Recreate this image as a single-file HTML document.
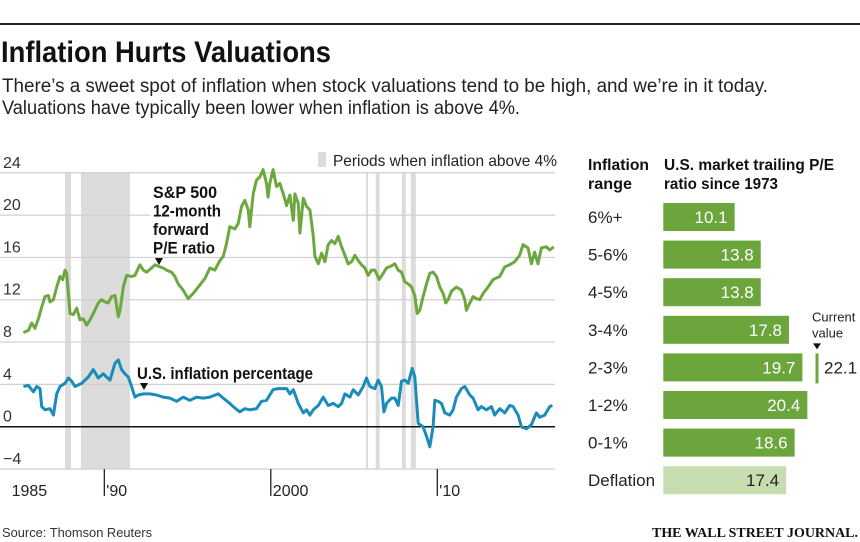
<!DOCTYPE html>
<html><head><meta charset="utf-8"><style>
html,body{margin:0;padding:0;background:#fff;}
svg{display:block;font-family:"Liberation Sans",sans-serif;}
</style></head><body>
<svg id="c" width="860" height="542" viewBox="0 0 860 542" xmlns="http://www.w3.org/2000/svg">
<rect x="0" y="23" width="860" height="2" fill="#222"/>
<text x="1" y="62" font-size="30" font-weight="bold" fill="#111" textLength="330" lengthAdjust="spacingAndGlyphs">Inflation Hurts Valuations</text>
<text x="2" y="92" font-size="19" fill="#222" textLength="766" lengthAdjust="spacingAndGlyphs">There’s a sweet spot of inflation when stock valuations tend to be high, and we’re in it today.</text>
<text x="2" y="114" font-size="19" fill="#222" textLength="518" lengthAdjust="spacingAndGlyphs">Valuations have typically been lower when inflation is above 4%.</text>
<g id="left"></g>
<g id="right"></g>
<text x="2" y="537" font-size="13" fill="#333" textLength="150" lengthAdjust="spacingAndGlyphs">Source: Thomson Reuters</text>
<text x="858" y="537" font-size="14" font-weight="bold" text-anchor="end" fill="#111" font-family="Liberation Serif, serif" textLength="206" lengthAdjust="spacingAndGlyphs">THE WALL STREET JOURNAL.</text>
</svg>
<script>
const peYears=[1985.14,1985.44,1985.64,1985.84,1986.04,1986.24,1986.44,1986.64,1986.74,1986.94,1987.14,1987.34,1987.5,1987.64,1987.74,1987.94,1988.14,1988.34,1988.54,1988.74,1988.94,1989.14,1989.34,1989.64,1989.84,1990.04,1990.24,1990.44,1990.64,1990.84,1990.94,1991.14,1991.34,1991.64,1991.84,1992.14,1992.34,1992.54,1992.84,1993.04,1993.34,1993.54,1993.74,1994.04,1994.24,1994.44,1994.74,1995.04,1995.34,1995.74,1996.04,1996.34,1996.64,1996.94,1997.14,1997.34,1997.54,1997.84,1998.04,1998.24,1998.44,1998.64,1998.74,1998.94,1999.14,1999.34,1999.54,1999.74,1999.84,1999.94,2000.14,2000.34,2000.54,2000.75,2000.95,2001.15,2001.35,2001.45,2001.65,2001.75,2001.95,2002.15,2002.35,2002.55,2002.65,2002.85,2003.05,2003.25,2003.45,2003.65,2003.85,2004.05,2004.25,2004.45,2004.65,2004.85,2005.05,2005.25,2005.45,2005.65,2005.85,2006.05,2006.25,2006.51,2006.75,2006.95,2007.25,2007.45,2007.65,2007.85,2008.05,2008.25,2008.45,2008.65,2008.79,2008.95,2009.15,2009.35,2009.55,2009.75,2009.95,2010.15,2010.35,2010.51,2010.65,2010.85,2011.15,2011.45,2011.65,2011.75,2011.95,2012.15,2012.35,2012.55,2012.75,2013.05,2013.35,2013.75,2014.05,2014.35,2014.65,2014.95,2015.15,2015.45,2015.65,2015.85,2016.05,2016.25,2016.55,2016.75,2016.99];
const peValues=[8.9,9.1,9.8,9.3,10.2,11.3,12.3,12.4,11.8,12.0,13.2,14.2,13.9,14.8,14.5,10.7,10.6,11.2,10.1,10.2,9.6,10.1,10.7,11.7,12.0,11.8,11.7,12.3,12.4,10.4,11.0,13.2,14.3,14.2,14.3,15.3,14.8,14.6,15.0,15.3,15.1,15.0,14.8,14.6,14.2,13.5,12.9,12.1,12.6,13.4,14.0,15.0,14.8,15.7,16.1,17.3,18.9,18.7,19.2,20.8,21.4,20.5,18.9,22.0,23.3,23.6,24.3,23.0,21.7,23.0,24.3,22.7,23.0,22.0,20.9,21.9,19.5,22.0,21.1,18.3,21.6,20.8,20.5,18.0,16.1,15.4,16.4,15.6,17.2,17.6,17.3,18.0,17.0,16.2,15.4,15.6,16.2,15.7,15.3,15.0,14.3,14.8,14.8,13.9,14.5,15.0,15.2,15.4,14.8,14.6,13.7,13.5,13.2,12.4,10.7,11.0,12.3,13.5,14.5,14.6,14.2,13.2,12.6,11.7,12.0,12.8,13.2,12.9,12.0,11.0,11.7,12.3,12.1,12.0,12.6,13.2,13.9,14.2,15.1,15.3,15.6,16.2,17.2,16.9,15.4,16.5,15.4,16.9,17.0,16.7,17.0];
const cpiYears=[1985.14,1985.44,1985.74,1985.94,1986.14,1986.24,1986.44,1986.74,1986.94,1987.14,1987.34,1987.64,1987.84,1988.04,1988.24,1988.64,1989.04,1989.34,1989.64,1989.94,1990.14,1990.34,1990.64,1990.84,1991.04,1991.24,1991.44,1991.64,1991.84,1992.04,1992.34,1992.74,1993.14,1993.54,1993.94,1994.34,1994.74,1995.14,1995.54,1995.94,1996.34,1996.84,1997.14,1997.54,1997.74,1998.14,1998.44,1998.74,1999.14,1999.44,1999.74,2000.14,2000.44,2000.95,2001.15,2001.35,2001.65,2001.95,2002.15,2002.35,2002.55,2002.85,2003.15,2003.45,2003.75,2004.05,2004.25,2004.45,2004.75,2004.95,2005.25,2005.55,2005.75,2005.95,2006.25,2006.45,2006.65,2006.79,2006.95,2007.25,2007.45,2007.65,2007.85,2008.05,2008.25,2008.49,2008.65,2008.85,2009.15,2009.35,2009.55,2009.75,2009.85,2010.05,2010.25,2010.45,2010.75,2010.95,2011.15,2011.45,2011.65,2011.95,2012.15,2012.45,2012.65,2012.95,2013.25,2013.45,2013.75,2014.05,2014.35,2014.55,2014.85,2015.05,2015.35,2015.65,2015.95,2016.15,2016.45,2016.75,2016.91];
const cpiValues=[3.8,3.9,3.3,3.8,3.6,1.9,1.6,1.7,1.1,3.1,3.8,4.1,4.6,4.3,3.8,4.1,4.7,5.4,4.6,5.0,4.7,4.4,6.0,6.3,5.4,5.0,4.7,3.8,2.8,3.0,3.1,3.1,3.0,2.8,2.7,2.4,2.8,2.5,2.8,2.7,2.8,3.1,2.7,2.2,1.9,1.4,1.7,1.6,1.7,2.4,2.5,3.5,3.6,3.6,3.1,3.5,2.2,1.3,1.6,1.1,1.6,2.0,2.8,2.0,2.2,1.9,2.2,3.1,2.8,3.5,3.0,3.8,4.6,3.8,3.6,4.4,3.8,1.4,2.2,2.7,2.7,2.0,4.3,4.4,4.1,5.5,4.7,0.3,0.0,-0.9,-1.9,0.0,2.5,2.4,2.2,1.3,1.1,1.6,2.8,3.6,3.8,3.0,2.7,1.6,1.9,1.6,1.9,1.1,1.7,1.3,2.0,1.9,1.1,0.0,-0.2,0.2,1.3,0.9,1.1,1.9,2.0];
const bandStarts=[1987.64,1988.6,2005.72,2006.3,2007.87,2008.41];
const bandEnds=[1988.0,1991.54,2005.84,2006.54,2008.11,2008.71];
const yTicks=[24,20,16,12,8,4,0,-4];
const yTickLabels=["24","20","16","12","8","4","0","\u22124"];
const xTicks=[1990,2000,2010];
const xTickLabels=["'90","2000","'10"];
const barCategories=["6%+","5-6%","4-5%","3-4%","2-3%","1-2%","0-1%","Deflation"];
const barValues=[10.1,13.8,13.8,17.8,19.7,20.4,18.6,17.4];
const barLabels=["10.1","13.8","13.8","17.8","19.7","20.4","18.6","17.4"];
const currentValue=22.1;

const NS="http://www.w3.org/2000/svg";
function mk(tag,attrs,parent,txt){const e=document.createElementNS(NS,tag);for(const k in attrs)e.setAttribute(k,attrs[k]);if(txt!=null)e.textContent=txt;parent.appendChild(e);return e;}
const X=y=>104.3+(y-1990)*16.65;
const Y=v=>426.7-v*10.58;
const L=document.getElementById('left');
// bands
for(let i=0;i<bandStarts.length;i++){
  const r=mk('rect',{x:X(bandStarts[i]),y:Y(24),width:X(bandEnds[i])-X(bandStarts[i]),height:Y(-4)-Y(24),fill:'#dcdcdc'},L);
  
  
}
// grid
for(let i=0;i<yTicks.length;i++){
  const v=yTicks[i];
  const g=mk('line',{x1:0,x2:555,y1:Y(v),y2:Y(v),stroke:v===0?'#111':'#cfcfcf','stroke-width':v===0?1.5:1.2},L);
  
  
  const t=mk('text',{x:3,y:Y(v)-5,'font-size':16,fill:'#333'},L,yTickLabels[i]);
  
  
}
// x ticks
for(let i=0;i<xTicks.length;i++){
  const tk=mk('line',{x1:X(xTicks[i]),x2:X(xTicks[i]),y1:Y(-4),y2:496,stroke:'#111','stroke-width':1.2},L);
  
  
  const t=mk('text',{x:X(xTicks[i])+2,y:496,'font-size':16,fill:'#222'},L,xTickLabels[i]);
  
  
}
const t85=mk('text',{x:X(1985.5),y:496,'font-size':16,fill:'#222','text-anchor':'middle'},L,"1985");


// annotation backgrounds
const bg=mk('rect',{x:150,y:178,width:100,height:74,fill:'#fff'},L);


// lines
function path(xs,vs){return xs.map((y,i)=>(i?'L':'M')+X(y).toFixed(1)+','+Y(vs[i]).toFixed(1)).join('');}
const pe=mk('path',{d:path(peYears,peValues),fill:'none',stroke:'#6da83f','stroke-width':3,'stroke-linejoin':'round'},L);


const cp=mk('path',{d:path(cpiYears,cpiValues),fill:'none',stroke:'#1b8cba','stroke-width':3,'stroke-linejoin':'round'},L);


// annotations
const ann=["S&P 500","12-month","forward","P/E ratio"];
ann.forEach((s,i)=>{const t=mk('text',{x:153,y:198+i*18.5,'font-size':17,fill:'#111','font-weight':'bold',textLength:[64,68,56,62][i],lengthAdjust:'spacingAndGlyphs'},L,s);
  
  });
const tri1=mk('path',{d:'M155,258L163,258L159,265Z',fill:'#111'},L);


const ia=mk('text',{x:137,y:379,'font-size':17,fill:'#111','font-weight':'bold',textLength:176,lengthAdjust:'spacingAndGlyphs'},L,"U.S. inflation percentage");


const tri2=mk('path',{d:'M140,383L148,383L144,390Z',fill:'#111'},L);


// legend
const lg=mk('rect',{x:318,y:152,width:8,height:15,fill:'#dcdcdc'},L);


const lt=mk('text',{x:333,y:166,'font-size':16,fill:'#222',textLength:224,lengthAdjust:'spacingAndGlyphs'},L,"Periods when inflation above 4%");



// right bar chart
const R=document.getElementById('right');
const BX=v=>663.3+v*7.06;
const rowY=i=>217+i*37.6;
[["Inflation",588,170,61],["range",588,189,44],["U.S. market trailing P/E",664,170,170],["ratio since 1973",664,189,114]].forEach(h=>{
  const t=mk('text',{x:h[1],y:h[2],'font-size':16,'font-weight':'bold',fill:'#111',textLength:h[3],lengthAdjust:'spacingAndGlyphs'},R,h[0]);
  
  
});
for(let i=0;i<barCategories.length;i++){
  const cy=rowY(i);
  const defl=i===barCategories.length-1;
  const c=mk('text',{x:588,y:cy+6,'font-size':17,fill:'#222'},R,barCategories[i]);
  
  
  const b=mk('rect',{x:663.3,y:cy-14,width:BX(barValues[i])-663.3,height:28,fill:defl?'#c6deaf':'#6ba53b'},R);
  
  
  const v=mk('text',{x:BX(barValues[i])-7,y:cy+6,'font-size':17,fill:defl?'#222':'#fff','text-anchor':'end'},R,barLabels[i]);
  
  
}
const cx=817;
const cur=mk('line',{x1:cx,x2:cx,y1:rowY(4)-14,y2:rowY(4)+16,stroke:'#6ba53b','stroke-width':3},R);


const ct=mk('path',{d:`M${cx-4},${rowY(4)-24}L${cx+4},${rowY(4)-24}L${cx},${rowY(4)-18}Z`,fill:'#111'},R);


[["Current",rowY(4)-46],["value",rowY(4)-30]].forEach(s=>{
  const t=mk('text',{x:812,y:s[1],'font-size':13,fill:'#222'},R,s[0]);
  
  
});
const cvt=mk('text',{x:824,y:rowY(4)+6,'font-size':17,fill:'#222'},R,currentValue.toFixed(1));


</script>
</body></html>
